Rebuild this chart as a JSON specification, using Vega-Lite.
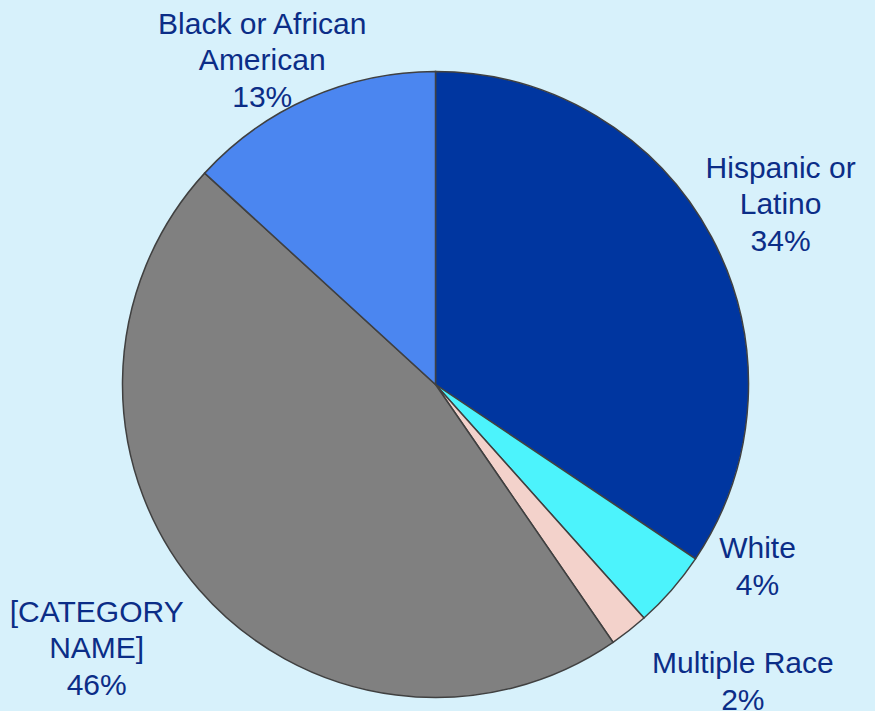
{
  "$schema": "https://vega.github.io/schema/vega-lite/v6.json",
  "width": 871,
  "height": 653,
  "autosize": {"type": "none"},
  "padding": {"left": 0, "top": 58, "right": 4, "bottom": 0},
  "background": "#d7f1fb",
  "config": {"view": {"stroke": null}},
  "data": {
    "values": [
      {"category": "Hispanic or Latino", "label": "Hispanic or\nLatino\n34%", "value": 34.4, "order": 1},
      {"category": "White", "label": "White\n4%", "value": 4.0, "order": 2},
      {"category": "Multiple Race", "label": "Multiple Race\n2%", "value": 2.0, "order": 3},
      {"category": "[CATEGORY NAME]", "label": "[CATEGORY\nNAME]\n46%", "value": 46.4, "order": 4},
      {"category": "Black or African American", "label": "Black or African\nAmerican\n13%", "value": 13.2, "order": 5}
    ]
  },
  "encoding": {
    "theta": {"field": "value", "type": "quantitative", "stack": true},
    "order": {"field": "order", "type": "quantitative"},
    "detail": {"field": "category", "type": "nominal"}
  },
  "layer": [
    {
      "mark": {"type": "arc", "radius": 313, "stroke": "#404040", "strokeWidth": 1.5},
      "encoding": {
        "color": {
          "field": "category",
          "type": "nominal",
          "scale": {
            "domain": ["Hispanic or Latino", "White", "Multiple Race", "[CATEGORY NAME]", "Black or African American"],
            "range": ["#0036a0", "#4cf3fc", "#f3d2cb", "#808080", "#4b86f0"]
          },
          "legend": null
        }
      }
    },
    {
      "mark": {"type": "text", "radius": 390, "dx": 1, "dy": -32, "font": "Liberation Sans", "fontSize": 30, "lineHeight": 36.5, "lineBreak": "\n", "align": "center", "baseline": "middle", "color": "#0b2d87"},
      "encoding": {"text": {"condition": {"test": "datum.category === 'Hispanic or Latino'", "field": "label"}, "value": ""}}
    },
    {
      "mark": {"type": "text", "radius": 362, "dx": 49, "dy": -73, "font": "Liberation Sans", "fontSize": 30, "lineHeight": 36.5, "lineBreak": "\n", "align": "center", "baseline": "middle", "color": "#0b2d87"},
      "encoding": {"text": {"condition": {"test": "datum.category === 'White'", "field": "label"}, "value": ""}}
    },
    {
      "mark": {"type": "text", "radius": 423, "dx": 46, "dy": -53, "font": "Liberation Sans", "fontSize": 30, "lineHeight": 36.5, "lineBreak": "\n", "align": "center", "baseline": "middle", "color": "#0b2d87"},
      "encoding": {"text": {"condition": {"test": "datum.category === 'Multiple Race'", "field": "label"}, "value": ""}}
    },
    {
      "mark": {"type": "text", "radius": 428, "dx": -16, "dy": -53, "font": "Liberation Sans", "fontSize": 30, "letterSpacing": -1.5, "lineHeight": 36.5, "lineBreak": "\n", "align": "center", "baseline": "middle", "color": "#0b2d87"},
      "encoding": {"text": {"condition": {"test": "datum.category === '[CATEGORY NAME]'", "field": "label"}, "value": ""}}
    },
    {
      "mark": {"type": "text", "radius": 368, "dx": -25, "dy": -23, "font": "Liberation Sans", "fontSize": 30, "lineHeight": 36.5, "lineBreak": "\n", "align": "center", "baseline": "middle", "color": "#0b2d87"},
      "encoding": {"text": {"condition": {"test": "datum.category === 'Black or African American'", "field": "label"}, "value": ""}}
    }
  ]
}
